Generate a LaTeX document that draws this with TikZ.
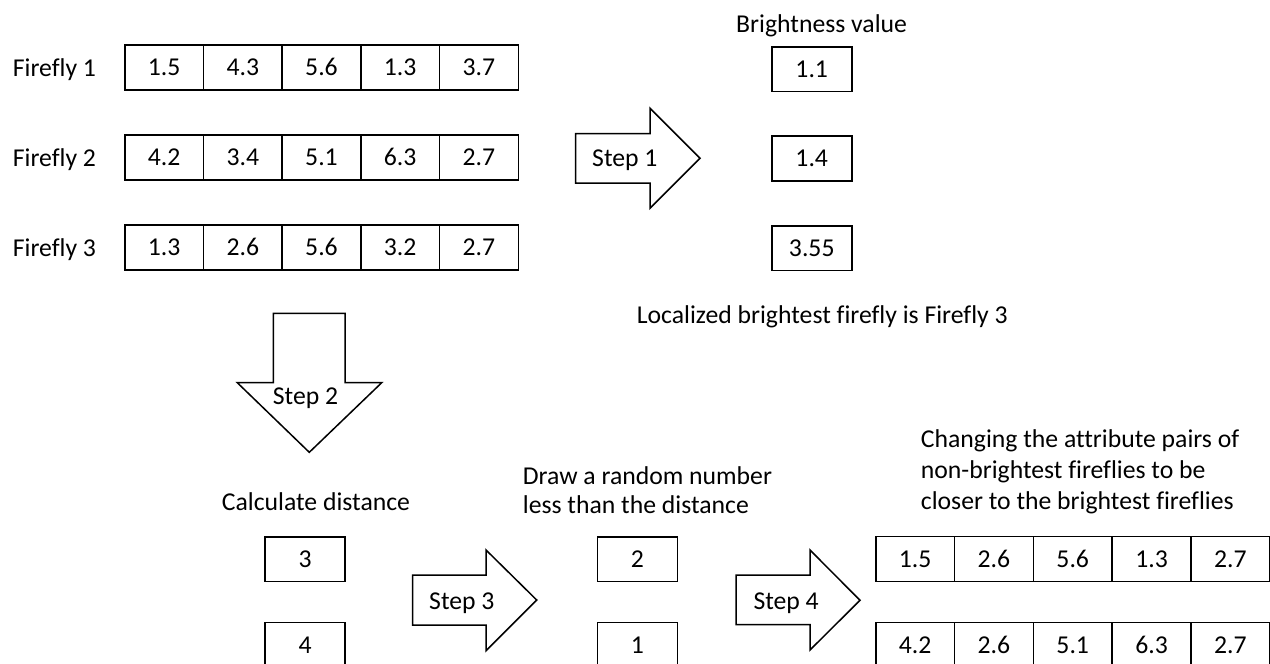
\documentclass[tikz,border=0pt]{standalone}
\usepackage{fontspec}
\setmainfont{Carlito}[Ligatures=NoCommon]
\begin{document}
\begin{tikzpicture}[x=1pt,y=-1pt,
  txt/.style={font=\fontsize{25.7}{30}\selectfont},
  cell/.style={txt, draw, line width=1.5pt, minimum width=78.7pt, minimum height=45pt,
    inner sep=0pt, text height=16.6pt, text depth=0pt, anchor=north west},
  valbox/.style={cell, minimum width=80pt, minimum height=44.7pt},
  lbl/.style={txt, anchor=base west, inner sep=0pt},
  blockarrow/.style={draw, line width=1.5pt, line join=miter}]
\useasboundingbox (0,0) rectangle (1270,664);

% firefly attribute rows
\foreach \r/\y/\vals in {1/44/{1.5,4.3,5.6,1.3,3.7},
                         2/134/{4.2,3.4,5.1,6.3,2.7},
                         3/224/{1.3,2.6,5.6,3.2,2.7}}{
  \node[lbl] (lab\r) at (12.7,\y+32) {Firefly \r};
  \foreach \v [count=\c] in \vals
    \node[cell] (f\r-\c) at ({124+78.7*(\c-1)},\y) {\v};
}

% step 1: brightness values
\draw[blockarrow] (575.7,133.7) -- (650,133.7) -- (650,108.3) -- (700,158.3)
  -- (650,208.3) -- (650,183) -- (575.7,183) -- cycle;
\node[lbl] (s1) at (592,166.7) {Step 1};
\node[lbl] (bhead) at (736,32.7) {Brightness value};
\node[valbox] (b1) at (771,46) {1.1};
\node[valbox] (b2) at (771,135.3) {1.4};
\node[valbox] (b3) at (771,225) {3.55};
\node[lbl] (best) at (636.7,323.3) {Localized brightest firefly is Firefly 3};

% step 2: distances
\draw[blockarrow] (273.3,313.3) -- (345,313.3) -- (345,382.7) -- (381.7,382.7)
  -- (309.3,452.3) -- (237.3,382.7) -- (273.3,382.7) -- cycle;
\node[lbl] (s2) at (272.7,404) {Step 2};
\node[lbl] (dhead) at (221.7,510) {Calculate distance};
\node[valbox] (d1) at (264.3,536) {3};
\node[valbox] (d2) at (264.3,621.7) {4};

% step 3: random numbers
\draw[blockarrow] (412.7,575) -- (486,575) -- (486,550) -- (536.7,600)
  -- (486,650.7) -- (486,625) -- (412.7,625) -- cycle;
\node[lbl] (s3) at (429,609) {Step 3};
\node[lbl] (rhead1) at (522.7,484.5) {Draw a random number};
\node[lbl] (rhead2) at (522.7,513) {less than the distance};
\node[valbox] (q1) at (596.7,536) {2};
\node[valbox] (q2) at (596.7,621.7) {1};

% step 4: updated fireflies
\draw[blockarrow] (736,575) -- (810,575) -- (810,550) -- (860,600.3)
  -- (810,650) -- (810,624.5) -- (736,624.5) -- cycle;
\node[lbl] (s4) at (753.3,609) {Step 4};
\node[lbl] (uhead1) at (920.7,447.3) {Changing the attribute pairs of};
\node[lbl] (uhead2) at (920.7,478.2) {non-brightest fireflies to be};
\node[lbl] (uhead3) at (920.7,509) {closer to the brightest fireflies};
\foreach \r/\y/\vals in {1/535.7/{1.5,2.6,5.6,1.3,2.7},
                         2/621.7/{4.2,2.6,5.1,6.3,2.7}}{
  \foreach \v [count=\c] in \vals
    \node[cell, minimum width=78.8pt] (u\r-\c) at ({875+78.8*(\c-1)},\y) {\v};
}
\end{tikzpicture}
\end{document}
